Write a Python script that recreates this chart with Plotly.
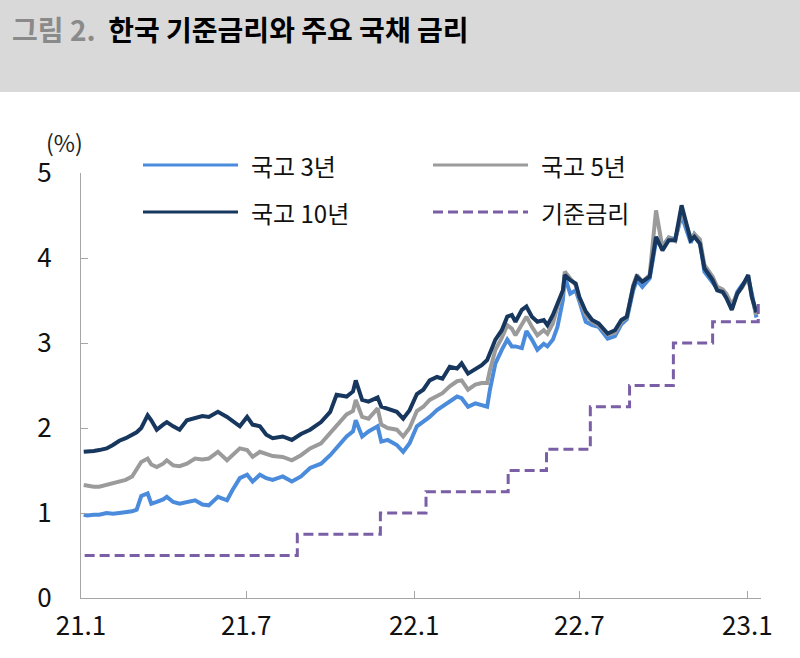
import plotly.graph_objects as go

dates = [
    "2021-01-04","2021-01-08","2021-01-15","2021-01-21","2021-01-29","2021-02-05","2021-02-12","2021-02-19","2021-02-26","2021-03-03",
    "2021-03-08","2021-03-15","2021-03-19","2021-03-25","2021-04-01","2021-04-05","2021-04-12","2021-04-19","2021-04-27","2021-05-06",
    "2021-05-14","2021-05-21","2021-05-31","2021-06-10","2021-06-16","2021-06-24","2021-07-02","2021-07-08","2021-07-16","2021-07-23",
    "2021-07-30","2021-08-10","2021-08-20","2021-08-30","2021-09-09","2021-09-21","2021-10-01","2021-10-08","2021-10-19","2021-10-26",
    "2021-10-29","2021-11-05","2021-11-12","2021-11-22","2021-11-26","2021-12-03","2021-12-13","2021-12-20","2021-12-27","2022-01-04",
    "2022-01-11","2022-01-18","2022-01-26","2022-02-01","2022-02-09","2022-02-17","2022-02-22","2022-03-01","2022-03-09","2022-03-16",
    "2022-03-22","2022-03-25","2022-03-31","2022-04-07","2022-04-13","2022-04-18","2022-04-22","2022-04-29","2022-05-04","2022-05-10",
    "2022-05-16","2022-05-23","2022-05-27","2022-06-02","2022-06-07","2022-06-13","2022-06-15","2022-06-21","2022-06-27","2022-07-01",
    "2022-07-08","2022-07-15","2022-07-22","2022-08-01","2022-08-09","2022-08-16","2022-08-22","2022-08-29","2022-09-02","2022-09-08",
    "2022-09-16","2022-09-23","2022-09-30","2022-10-07","2022-10-14","2022-10-21","2022-10-31","2022-11-04","2022-11-10","2022-11-15",
    "2022-11-24","2022-11-29","2022-12-05","2022-12-09","2022-12-15","2022-12-21","2022-12-26","2023-01-02","2023-01-06","2023-01-11",
]

ktb3 = [
    0.98,0.97,0.98,0.98,1.00,0.99,1.00,1.01,1.02,1.04,
    1.20,1.23,1.11,1.13,1.16,1.19,1.13,1.11,1.13,1.15,
    1.10,1.09,1.19,1.15,1.27,1.41,1.45,1.37,1.45,1.41,
    1.39,1.43,1.37,1.43,1.53,1.58,1.68,1.76,1.90,1.96,
    2.09,1.90,1.96,2.02,1.84,1.86,1.80,1.72,1.82,2.02,
    2.07,2.13,2.21,2.25,2.31,2.37,2.35,2.25,2.29,2.27,
    2.25,2.45,2.76,2.92,3.04,2.96,2.96,2.94,3.14,3.04,
    2.92,2.99,2.96,3.04,3.19,3.51,3.78,3.58,3.62,3.49,
    3.25,3.21,3.19,3.05,3.08,3.22,3.28,3.62,3.74,3.66,
    3.76,4.20,4.14,4.24,4.22,4.50,4.18,4.28,4.20,3.84,
    3.70,3.64,3.62,3.56,3.40,3.60,3.68,3.76,3.58,3.30,
]

ktb5 = [
    1.33,1.32,1.31,1.31,1.33,1.35,1.37,1.39,1.43,1.51,
    1.60,1.64,1.57,1.54,1.58,1.62,1.56,1.55,1.58,1.64,
    1.63,1.64,1.72,1.62,1.68,1.76,1.74,1.66,1.72,1.69,
    1.67,1.66,1.62,1.68,1.76,1.82,1.94,2.03,2.16,2.20,
    2.33,2.13,2.11,2.23,2.04,2.00,1.98,1.90,2.00,2.20,
    2.25,2.33,2.37,2.41,2.49,2.55,2.56,2.45,2.51,2.53,
    2.53,2.68,2.92,3.06,3.21,3.17,3.09,3.23,3.31,3.19,
    3.09,3.15,3.11,3.23,3.43,3.60,3.84,3.76,3.68,3.52,
    3.33,3.25,3.21,3.10,3.12,3.25,3.30,3.68,3.80,3.72,
    3.80,4.56,4.12,4.24,4.20,4.55,4.24,4.28,4.22,3.92,
    3.78,3.66,3.63,3.58,3.45,3.58,3.65,3.77,3.54,3.33,
]

ktb10 = [
    1.72,1.72,1.73,1.74,1.76,1.80,1.85,1.88,1.92,1.95,
    2.00,2.15,2.09,1.98,2.04,2.07,2.02,1.98,2.09,2.12,
    2.14,2.13,2.19,2.13,2.08,2.02,2.13,2.04,2.02,1.92,
    1.88,1.90,1.86,1.93,1.98,2.07,2.19,2.39,2.37,2.43,
    2.56,2.33,2.31,2.36,2.25,2.23,2.19,2.11,2.21,2.40,
    2.45,2.56,2.60,2.58,2.72,2.70,2.76,2.64,2.70,2.74,
    2.80,2.88,3.04,3.15,3.31,3.33,3.25,3.39,3.43,3.31,
    3.25,3.27,3.21,3.33,3.47,3.62,3.80,3.74,3.70,3.54,
    3.37,3.27,3.23,3.11,3.15,3.27,3.31,3.66,3.78,3.72,
    3.78,4.25,4.09,4.21,4.21,4.62,4.21,4.25,4.17,3.88,
    3.74,3.62,3.60,3.53,3.39,3.58,3.66,3.80,3.54,3.36,
]

base_dates = ["2021-01-05","2021-08-26","2021-11-25","2022-01-14","2022-04-14","2022-05-26",
              "2022-07-13","2022-08-25","2022-10-12","2022-11-24","2023-01-13"]
base_rate = [0.50,0.75,1.00,1.25,1.50,1.75,2.25,2.50,3.00,3.25,3.50]

tick_vals = ["2021-01-01","2021-07-01","2022-01-01","2022-07-01","2023-01-01"]
tick_text = ["21.1","21.7","22.1","22.7","23.1"]

series_names = ["국고 3년","국고 5년","국고 10년","기준금리"]
c3, c5, c10, cb = "#4a8bdb", "#9b9b9b", "#17375e", "#7b5fa6"

FONT = "Noto Sans CJK KR"

fig = go.Figure()
fig.add_trace(go.Scatter(x=dates, y=ktb3, mode="lines", name=series_names[0],
                         line=dict(color=c3, width=4)))
fig.add_trace(go.Scatter(x=dates, y=ktb5, mode="lines", name=series_names[1],
                         line=dict(color=c5, width=4)))
fig.add_trace(go.Scatter(x=dates, y=ktb10, mode="lines", name=series_names[2],
                         line=dict(color=c10, width=4)))
fig.add_trace(go.Scatter(x=base_dates, y=base_rate, mode="lines", name=series_names[3],
                         line=dict(color=cb, width=3, dash="10px,5px", shape="hv")))

# plot area in pixels: x 81..761, y 173..598
L, R, T, B = 81, 761, 173, 598
W, H = R - L, B - T
def px(x):
    return (x - L) / W
def py(y):
    return (B - y) / H

shapes = [
    dict(type="rect", xref="paper", yref="paper", x0=px(0), x1=px(800), y0=py(92), y1=py(0),
         fillcolor="#d9d9d9", line=dict(width=0), layer="below"),
]
annotations = [
    dict(xref="paper", yref="paper", x=px(10), y=py(29), xanchor="left", yanchor="middle",
         showarrow=False,
         text="<b><span style='color:#8a8a8a'>그림 2.</span>  한국 기준금리와 주요 국채 금리</b>",
         font=dict(family=FONT, size=28, color="#000000")),
    dict(xref="paper", yref="paper", x=px(64), y=py(142), xanchor="center", yanchor="middle",
         showarrow=False, text="(%)", font=dict(family=FONT, size=23, color="#222222")),
]

legend_items = [
    (series_names[0], c3, "solid", 143, 165),
    (series_names[1], c5, "solid", 433, 165),
    (series_names[2], c10, "solid", 143, 212),
    (series_names[3], cb, "10px,5px", 433, 212),
]
for name, col, dash, x0, yy in legend_items:
    shapes.append(dict(type="line", xref="paper", yref="paper", x0=px(x0), x1=px(x0 + 95),
                       y0=py(yy), y1=py(yy), line=dict(color=col, width=3, dash=dash)))
    annotations.append(dict(xref="paper", yref="paper", x=px(x0 + 106), y=py(yy),
                            xanchor="left", yanchor="middle", showarrow=False, text=name,
                            font=dict(family=FONT, size=24, color="#111111")))

fig.update_layout(
    width=800, height=658,
    margin=dict(l=L, r=800 - R, t=T, b=658 - B),
    paper_bgcolor="white", plot_bgcolor="white",
    showlegend=False,
    shapes=shapes, annotations=annotations,
    font=dict(family=FONT, color="#111111"),
)
fig.update_xaxes(type="date", range=["2021-01-01", "2023-01-16"],
                 tickvals=tick_vals, ticktext=tick_text,
                 ticks="inside", ticklen=7, tickcolor="#a6a6a6",
                 showline=True, linecolor="#a6a6a6", linewidth=1,
                 showgrid=False, zeroline=False,
                 tickfont=dict(family=FONT, size=26, color="#111111"),
                 ticklabelstandoff=5)
fig.update_yaxes(range=[0, 5], dtick=1, tick0=0,
                 ticks="inside", ticklen=7, tickcolor="#a6a6a6",
                 showline=True, linecolor="#a6a6a6", linewidth=1,
                 showgrid=False, zeroline=False,
                 tickfont=dict(family=FONT, size=26, color="#111111"),
                 ticklabelstandoff=23)

fig.write_html("out.html")
